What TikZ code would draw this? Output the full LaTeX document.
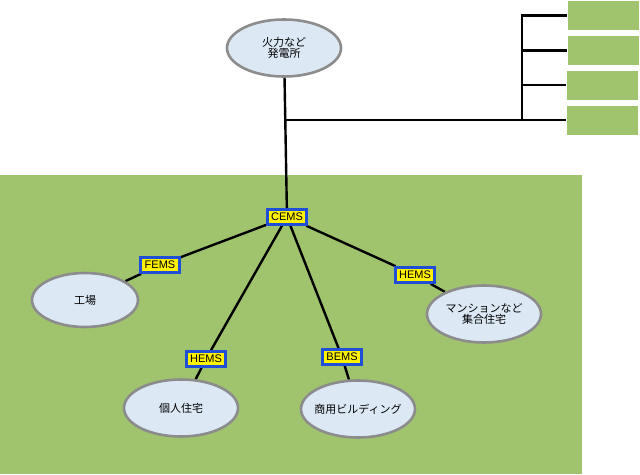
\documentclass[tikz,border=0pt]{standalone}
\usepackage{fontspec}
\setmainfont{Liberation Sans}
\newfontfamily\jp{Noto Sans CJK JP}
\usetikzlibrary{positioning,calc,shapes.geometric,backgrounds}
\definecolor{field}{HTML}{A0C46E}
\definecolor{site}{HTML}{DCE9F5}
\definecolor{rim}{HTML}{8C8C8C}
\definecolor{tagblue}{HTML}{1F4FD6}

\begin{document}
\begin{tikzpicture}[x=1pt, y=-1pt, font=\fontsize{11}{13}\selectfont,
  site/.style={draw=rim, line width=2.6pt, fill=site, ellipse, minimum width=114pt,
    minimum height=57pt, inner sep=0pt, align=center, font=\jp\fontsize{11}{12.5}\selectfont},
  ems/.style={draw=tagblue, line width=2.6pt, fill=yellow, inner sep=1.6pt,
    minimum width=39pt, minimum height=15pt},
  wire/.style={line width=2.4pt, black},
  lot/.style={fill=field, minimum width=71pt, minimum height=29pt, inner sep=0pt}]
  \useasboundingbox (0,0) rectangle (640,474);
  % supply side
  \node[site] (plant) at (284,48) {火力など\\[-2pt]発電所};
  \node[lot] (r1) at (603,15.5) {};
  \node[lot] (r2) at (603,50.5) {};
  \node[lot] (r3) at (602,85) {};
  \node[lot] (r4) at (602,120) {};
  \coordinate (bus) at (285,120);
  \coordinate (trunk) at (522,120);
  % consumers
  \node[ems] (cems) at (287,217) {CEMS};
  \node[ems] (fems) at (160,265) {FEMS};
  \node[ems] (hemsa) at (206,359) {HEMS};
  \node[ems] (bems) at (342,357) {BEMS};
  \node[ems] (hemsb) at (415,275) {HEMS};
  \node[site, minimum width=106pt, minimum height=54pt] (factory) at (85,300) {工場};
  \node[site] (house) at (181,408) {個人住宅};
  \node[site, inner xsep=-14pt] (office) at (358,409) {商用ビルディング};
  \node[site] (flats) at (484,314) {マンションなど\\[-2pt]集合住宅};
  % wiring
  \begin{pgfonlayer}{background}
    \fill[field] (0,175) rectangle (582,474);
    \draw[wire] (plant) -- (cems);
    \draw[wire] (bus) -- (r4.west);
    \draw[wire] (trunk) -- (trunk |- r1.west) -- (r1.west);
    \foreach \r in {r2,r3} {\draw[wire] (trunk |- \r.west) -- (\r.west);}
    \foreach \t/\s in {fems/factory,hemsa/house,bems/office,hemsb/flats}
      {\draw[wire] (cems) -- (\t) -- (\s);}
  \end{pgfonlayer}
\end{tikzpicture}
\end{document}
